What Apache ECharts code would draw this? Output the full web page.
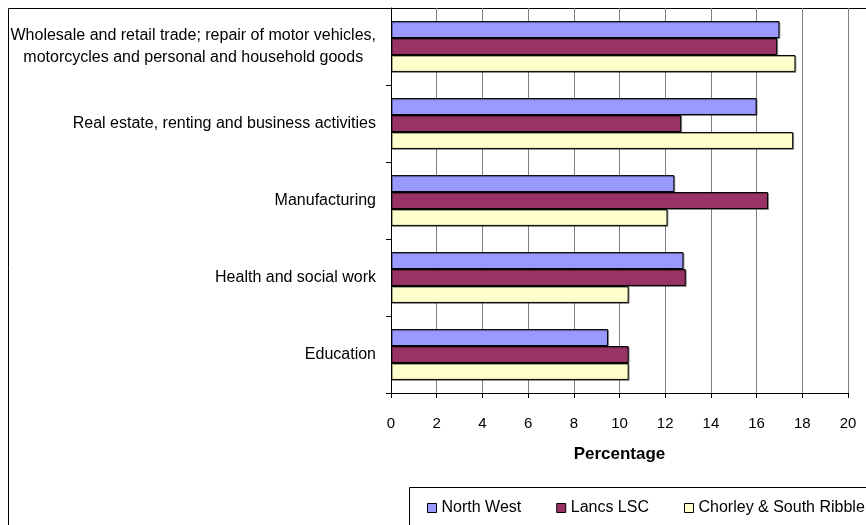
<!DOCTYPE html>
<html>
<head>
<meta charset="utf-8">
<script src="https://cdn.jsdelivr.net/npm/echarts@6/dist/echarts.min.js"></script>
<style>
  html, body { margin: 0; padding: 0; background: #fff; }
  #chart { width: 866px; height: 525px; }
</style>
</head>
<body>
<div id="chart"></div>
<script>
// categories, top to bottom
const industries = [
  'Wholesale and retail trade; repair of motor vehicles,\nmotorcycles and personal and household goods',
  'Real estate, renting and business activities',
  'Manufacturing',
  'Health and social work',
  'Education'
]
const northWest = [17.0, 16.0, 12.4, 12.8, 9.5]
const lancsLSC = [16.9, 12.7, 16.5, 12.9, 10.4]
const chorley = [17.7, 17.6, 12.1, 10.4, 10.4]

const font = 'Liberation Sans, Arial, sans-serif'
const chart = echarts.init(document.getElementById('chart'))

// shared bar style
function barSeries (name, color, data) {
  return {
    name: name,
    type: 'bar',
    data: data,
    barGap: '0%',
    barCategoryGap: '34%',
    itemStyle: {
      color: color,
      borderColor: '#000',
      borderWidth: 1,
      shadowColor: 'rgba(0,0,0,0.35)',
      shadowOffsetX: 1,
      shadowOffsetY: 1
    }
  }
}

chart.setOption({
  backgroundColor: '#fff',
  animation: false,
  textStyle: { fontFamily: font, color: '#000' },
  graphic: [
    // outer frame
    {
      type: 'rect',
      shape: { x: 8.5, y: 8.5, width: 900, height: 600 },
      style: { fill: 'none', stroke: '#000', lineWidth: 1 },
      z: -1
    },
    // legend box, runs past the right and bottom edges
    {
      type: 'rect',
      shape: { x: 409.5, y: 487.5, width: 500, height: 100 },
      style: { fill: 'none', stroke: '#000', lineWidth: 1 },
      z: -1
    }
  ],
  grid: { left: 391, top: 8, width: 457, height: 385, containLabel: false },
  legend: {
    left: 427,
    top: 500,
    width: 460,
    orient: 'horizontal',
    padding: 0,
    itemWidth: 9,
    itemHeight: 9,
    itemGap: 35,
    icon: 'rect',
    itemStyle: { borderColor: '#000', borderWidth: 1 },
    textStyle: { fontFamily: font, fontSize: 16, color: '#000' },
    data: ['North West', 'Lancs LSC', 'Chorley & South Ribble']
  },
  xAxis: {
    type: 'value',
    min: 0,
    max: 20,
    interval: 2,
    name: 'Percentage',
    nameLocation: 'middle',
    nameGap: 53,
    nameTextStyle: { fontFamily: font, fontSize: 17, fontWeight: 'bold', color: '#000' },
    axisLine: { show: true, lineStyle: { color: '#000' } },
    axisTick: { show: true, length: 5, lineStyle: { color: '#000' } },
    axisLabel: { fontFamily: font, fontSize: 15, color: '#000', margin: 23 },
    splitLine: { show: true, lineStyle: { color: '#808080', width: 1 } }
  },
  yAxis: {
    type: 'category',
    inverse: true,
    data: industries,
    axisLine: { show: true, lineStyle: { color: '#000' } },
    axisTick: { show: true, length: 5, lineStyle: { color: '#000' } },
    axisLabel: {
      margin: 15,
      align: 'right',
      // lines of a wrapped label are centred on each other
      formatter: function (value) {
        return value.split('\n').map(function (s) { return '{c|' + s + '}' }).join('\n')
      },
      rich: {
        c: { fontFamily: font, fontSize: 16, color: '#000', lineHeight: 22, align: 'center' }
      }
    },
    splitLine: { show: false }
  },
  series: [
    barSeries('North West', '#9999FF', northWest),
    barSeries('Lancs LSC', '#993366', lancsLSC),
    barSeries('Chorley & South Ribble', '#FFFFCC', chorley)
  ]
})
</script>
</body>
</html>
